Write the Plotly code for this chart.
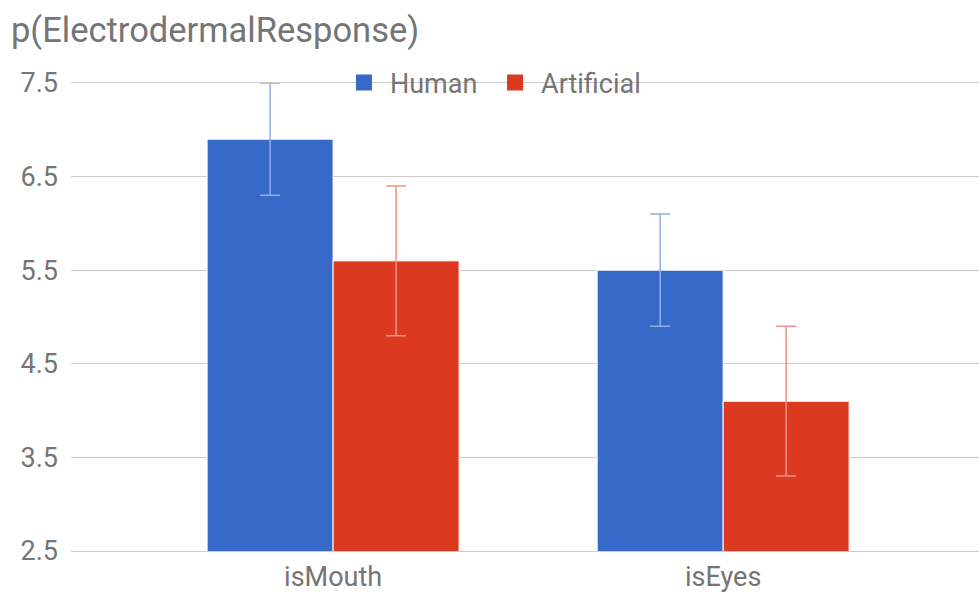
import plotly.graph_objects as go

categories = ["isMouth", "isEyes"]
human = [6.9, 5.5]
human_err = [0.6, 0.6]
artificial = [5.6, 4.1]
artificial_err = [0.8, 0.8]
y_ticks = [2.5, 3.5, 4.5, 5.5, 6.5, 7.5]

BLUE = "#3769C9"
RED = "#DB3A20"
FONT = "Roboto, Arial, sans-serif"
GRAY = "#757575"
GRID = "#CCCCCC"

fig = go.Figure()
fig.add_trace(go.Bar(
    x=categories, y=human, name="Human", showlegend=False,
    marker=dict(color=BLUE, line=dict(color="white", width=1)),
    error_y=dict(type="data", array=human_err, color="#8FAEE8", thickness=1.5, width=10),
))
fig.add_trace(go.Bar(
    x=categories, y=artificial, name="Artificial", showlegend=False,
    marker=dict(color=RED, line=dict(color="white", width=1)),
    error_y=dict(type="data", array=artificial_err, color="#EE9283", thickness=1.5, width=10),
))
# legend entries (square swatches), one legend each so spacing can match
fig.add_trace(go.Scatter(x=[None], y=[None], mode="markers", name="Human", legend="legend",
                         marker=dict(symbol="square", size=20, color=BLUE)))
fig.add_trace(go.Scatter(x=[None], y=[None], mode="markers", name="Artificial", legend="legend2",
                         marker=dict(symbol="square", size=20, color=RED)))

legend_common = dict(orientation="h", y=1.0, yanchor="middle", xanchor="left",
                     bgcolor="rgba(0,0,0,0)", font=dict(family=FONT, size=27, color=GRAY),
                     itemsizing="trace", itemwidth=42)

fig.update_layout(
    width=979, height=594,
    margin=dict(l=71, r=0, t=83, b=43, autoexpand=False),
    paper_bgcolor="white", plot_bgcolor="white",
    font=dict(family=FONT, size=27, color=GRAY),
    title=dict(text="p(ElectrodermalResponse)", x=11/979, xanchor="left", xref="container",
               y=1-30/594, yanchor="middle", yref="container",
               font=dict(family=FONT, size=34.5, color=GRAY)),
    barmode="group", bargap=0.354, bargroupgap=0.0,
    legend=dict(x=0.294, **legend_common),
    legend2=dict(x=0.4604, **legend_common),
    xaxis=dict(range=[-0.672, 1.656], showgrid=False, ticks="", automargin=False,
               showline=True, mirror=True, linecolor=GRID, linewidth=1,
               tickfont=dict(size=27, color=GRAY), ticklabelstandoff=2, fixedrange=True),
    yaxis=dict(range=[2.5, 7.5], tickvals=y_ticks, ticktext=[f"{v:.1f}" for v in y_ticks],
               showgrid=True, gridcolor=GRID, gridwidth=1, zeroline=False, automargin=False,
               showline=False, ticks="", tickfont=dict(size=27, color=GRAY),
               ticklabelstandoff=12, fixedrange=True),
)

fig.write_html("out.html", config={"displayModeBar": False},
               post_script="document.body.style.margin='0';document.body.style.overflow='hidden';")
